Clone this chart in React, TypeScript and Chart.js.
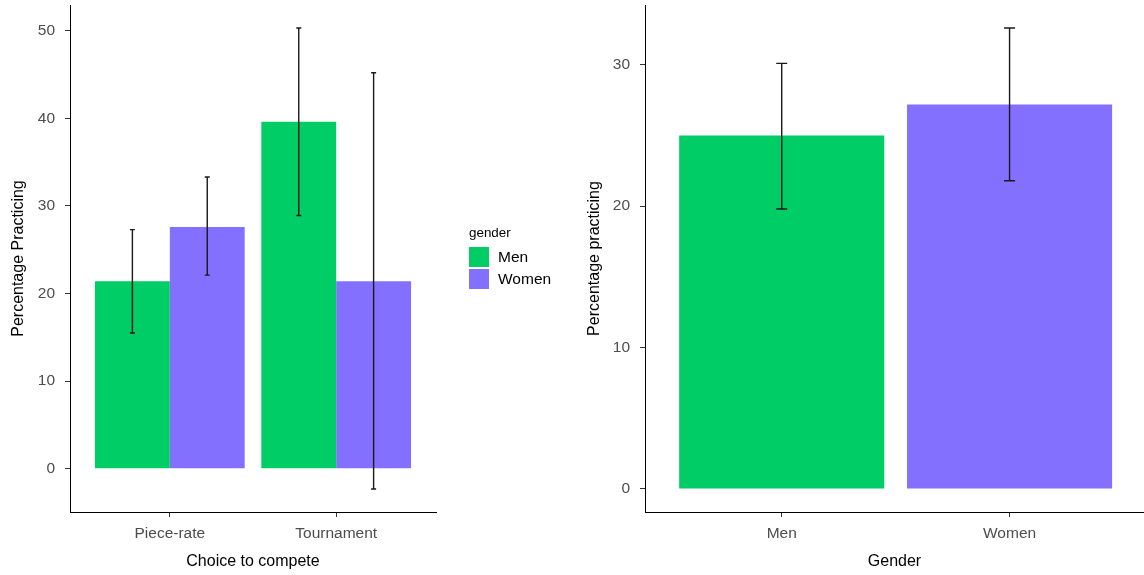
import React, { useEffect, useRef } from 'react';
import { Chart, registerables } from 'chart.js';

Chart.register(...registerables);

// ---- Left panel data ----
const choiceCategories = ['Piece-rate', 'Tournament'];
const menByChoice = [21.4, 39.6];
const menByChoiceLow = [15.5, 28.9];
const menByChoiceHigh = [27.3, 50.3];
const womenByChoice = [27.6, 21.4];
const womenByChoiceLow = [22.1, -2.3];
const womenByChoiceHigh = [33.3, 45.2];
const leftYTicks = [0, 10, 20, 30, 40, 50];

// ---- Right panel data ----
const genderCategories = ['Men', 'Women'];
const genderValues = [25.0, 27.2];
const genderLow = [19.8, 21.8];
const genderHigh = [30.1, 32.6];
const rightYTicks = [0, 10, 20, 30];

const legendTitle = 'gender';
const legendLabels = ['Men', 'Women'];

const GREEN = '#00CD66';
const PURPLE = '#8470FF';
const FONT = "'Liberation Sans', Arial, sans-serif";

const errorBarPlugin = {
  id: 'errorBars',
  afterDatasetsDraw(chart: any, _args: any, opts: any) {
    const ctx = chart.ctx;
    const yScale = chart.scales.y;
    const cap = opts.capHalf || 3;
    ctx.save();
    ctx.strokeStyle = opts.color || '#222';
    ctx.lineWidth = opts.lineWidth || 1.3;
    chart.data.datasets.forEach((ds: any, di: number) => {
      const meta = chart.getDatasetMeta(di);
      if (!ds.errLow || !ds.errHigh) return;
      meta.data.forEach((el: any, i: number) => {
        const x = el.x;
        const yl = yScale.getPixelForValue(ds.errLow[i]);
        const yh = yScale.getPixelForValue(ds.errHigh[i]);
        ctx.beginPath();
        ctx.moveTo(x, yl);
        ctx.lineTo(x, yh);
        ctx.moveTo(x - cap, yl);
        ctx.lineTo(x + cap, yl);
        ctx.moveTo(x - cap, yh);
        ctx.lineTo(x + cap, yh);
        ctx.stroke();
      });
    });
    ctx.restore();
  },
};

const sideLegendPlugin = {
  id: 'sideLegend',
  afterDraw(chart: any, _args: any, opts: any) {
    if (!opts || !opts.display) return;
    const ctx = chart.ctx;
    const area = chart.chartArea;
    const mid = (area.top + area.bottom) / 2;
    const x0 = area.right + opts.offsetX;
    ctx.save();
    ctx.fillStyle = '#000';
    ctx.textBaseline = 'middle';
    ctx.textAlign = 'left';
    ctx.font = `13.4px ${FONT}`;
    ctx.fillText(opts.title, x0, mid - 25);
    const key = 20;
    chart.data.datasets.forEach((ds: any, i: number) => {
      const top = mid - 11.5 + i * (key + 2);
      ctx.fillStyle = ds.backgroundColor;
      ctx.fillRect(x0, top, key, key);
      ctx.fillStyle = '#000';
      ctx.font = `15.5px ${FONT}`;
      ctx.fillText(opts.labels[i], x0 + 29, top + key / 2 + 0.5);
    });
    ctx.restore();
  },
};

function makeXScale(labels: string[], max: number, height: number) {
  return {
    type: 'linear',
    min: 0.4,
    max,
    offset: false,
    afterBuildTicks: (scale: any) => {
      scale.ticks = labels.map((_, i) => ({ value: i + 1 }));
    },
    afterFit: (scale: any) => {
      scale.height = height;
      scale.paddingLeft = 0;
      scale.paddingRight = 0;
      scale.paddingTop = 0;
      scale.paddingBottom = 0;
    },
    ticks: {
      autoSkip: false,
      maxRotation: 0,
      padding: 7,
      color: '#4D4D4D',
      font: { family: FONT, size: 15.5 },
      callback: (v: number) => labels[Math.round(v) - 1] ?? '',
    },
    grid: {
      offset: false,
      drawOnChartArea: false,
      drawTicks: true,
      tickLength: 5,
      tickColor: '#333',
      tickWidth: 1,
    },
    border: { display: true, color: '#000', width: 1 },
  };
}

function makeYScale(min: number, max: number, tickVals: number[], width: number, titleText: string, titlePad: number) {
  return {
    type: 'linear',
    min,
    max,
    afterBuildTicks: (scale: any) => {
      scale.ticks = tickVals.map((v) => ({ value: v }));
    },
    afterFit: (scale: any) => {
      scale.width = width;
      scale.paddingLeft = 0;
      scale.paddingRight = 0;
      scale.paddingTop = 0;
      scale.paddingBottom = 0;
    },
    ticks: {
      padding: 10,
      color: '#4D4D4D',
      font: { family: FONT, size: 15.5 },
    },
    grid: {
      drawOnChartArea: false,
      drawTicks: true,
      tickLength: 5,
      tickColor: '#333',
      tickWidth: 1,
    },
    border: { display: true, color: '#000', width: 1 },
    title: {
      display: true,
      text: titleText,
      color: '#000',
      font: { family: FONT, size: 16 },
      padding: { top: titlePad, bottom: 0 },
    },
  };
}

function LeftChart() {
  const ref = useRef<HTMLCanvasElement | null>(null);
  useEffect(() => {
    if (!ref.current) return;
    const chart = new Chart(ref.current, {
      type: 'bar',
      data: {
        datasets: [
          {
            label: legendLabels[0],
            data: menByChoice.map((y, i) => ({ x: i + 1, y })),
            backgroundColor: GREEN,
            errLow: menByChoiceLow,
            errHigh: menByChoiceHigh,
            categoryPercentage: 0.9,
            barPercentage: 1,
          } as any,
          {
            label: legendLabels[1],
            data: womenByChoice.map((y, i) => ({ x: i + 1, y })),
            backgroundColor: PURPLE,
            errLow: womenByChoiceLow,
            errHigh: womenByChoiceHigh,
            categoryPercentage: 0.9,
            barPercentage: 1,
          } as any,
        ],
      },
      options: {
        animation: false,
        responsive: false,
        maintainAspectRatio: false,
        layout: { padding: { top: 5, right: 134, bottom: 0, left: 0 } },
        scales: {
          x: {
            ...makeXScale(choiceCategories, 2.6, 63),
            title: {
              display: true,
              text: 'Choice to compete',
              color: '#000',
              font: { family: FONT, size: 16 },
              padding: { top: 0, bottom: 4 },
            },
          } as any,
          y: makeYScale(-4.93, 52.93, leftYTicks, 70, 'Percentage Practicing', 9) as any,
        },
        plugins: {
          legend: { display: false },
          tooltip: { enabled: false },
          errorBars: { capHalf: 2.5, color: '#1a1a1a', lineWidth: 1.4 },
          sideLegend: { display: true, title: legendTitle, labels: legendLabels, offsetX: 33 },
        } as any,
      },
      plugins: [errorBarPlugin, sideLegendPlugin],
    });
    return () => chart.destroy();
  }, []);
  return <canvas ref={ref} width={570} height={575} style={{ position: 'absolute', left: 0, top: 0, width: 570, height: 575 }} />;
}

function RightChart() {
  const ref = useRef<HTMLCanvasElement | null>(null);
  useEffect(() => {
    if (!ref.current) return;
    const chart = new Chart(ref.current, {
      type: 'bar',
      data: {
        datasets: [
          {
            label: 'Percentage practicing',
            data: genderValues.map((y, i) => ({ x: i + 1, y })),
            backgroundColor: [GREEN, PURPLE],
            errLow: genderLow,
            errHigh: genderHigh,
            categoryPercentage: 0.9,
            barPercentage: 1,
          } as any,
        ],
      },
      options: {
        animation: false,
        responsive: false,
        maintainAspectRatio: false,
        layout: { padding: { top: 5, right: 0, bottom: 0, left: 0 } },
        scales: {
          x: {
            ...makeXScale(genderCategories, 2.59, 63),
            title: {
              display: true,
              text: 'Gender',
              color: '#000',
              font: { family: FONT, size: 16 },
              padding: { top: 0, bottom: 4 },
            },
          } as any,
          y: makeYScale(-1.63, 34.23, rightYTicks, 75, 'Percentage practicing', 15) as any,
        },
        plugins: {
          legend: { display: false },
          tooltip: { enabled: false },
          errorBars: { capHalf: 5.5, color: '#1a1a1a', lineWidth: 1.4 },
          sideLegend: { display: false },
        } as any,
      },
      plugins: [errorBarPlugin, sideLegendPlugin],
    });
    return () => chart.destroy();
  }, []);
  return <canvas ref={ref} width={574} height={575} style={{ position: 'absolute', left: 570, top: 0, width: 574, height: 575 }} />;
}

export default function App() {
  return (
    <div style={{ position: 'absolute', left: 0, top: 0, width: 1144, height: 575, background: '#fff', overflow: 'hidden' }}>
      <LeftChart />
      <RightChart />
    </div>
  );
}
